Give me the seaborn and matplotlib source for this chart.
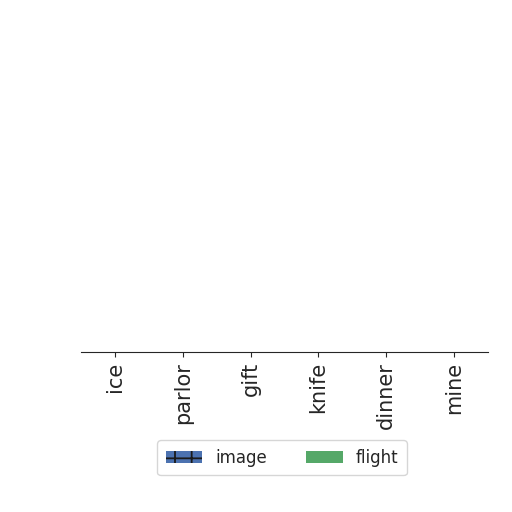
import matplotlib
matplotlib.use("Agg")
import matplotlib.pyplot as plt
from matplotlib.patches import Patch
import pandas as pd
import seaborn as sns

# ----------------------------
# Data (nothing is visible above the axis line, so bar heights read as 0)
# ----------------------------
categories = ["ice", "parlor", "gift", "knife", "dinner", "mine"]
series_names = ["image", "flight"]
image_values = [0, 0, 0, 0, 0, 0]
flight_values = [0, 0, 0, 0, 0, 0]
colors = ["#4C72B0", "#55A868"]
hatches = ["+", ""]

df = pd.DataFrame({
    "category": categories * 2,
    "series": [series_names[0]] * len(categories) + [series_names[1]] * len(categories),
    "value": image_values + flight_values,
})

sns.set_style("ticks")
plt.rcParams["font.family"] = ["DejaVu Sans"]
plt.rcParams["hatch.linewidth"] = 1.3

fig = plt.figure(figsize=(5.12, 5.12), dpi=100)
ax = fig.add_axes([81 / 512, 160 / 512, 407 / 512, 0.62])

sns.barplot(data=df, x="category", y="value", hue="series",
            palette=colors, order=categories, hue_order=series_names,
            errorbar=None, legend=False, ax=ax)

for container, h in zip(ax.containers, hatches):
    for bar in container:
        bar.set_hatch(h)

ax.set_xlim(-0.5, len(categories) - 0.5)
ax.set_xlabel("")
ax.set_ylabel("")
ax.set_yticks([])
ax.tick_params(axis="x", labelsize=15, rotation=90, colors=".15")
sns.despine(ax=ax, left=True)

handles = [Patch(facecolor=c, hatch=h, edgecolor=".1", linewidth=0, label=n)
           for c, h, n in zip(colors, hatches, series_names)]
fig.legend(handles=handles, loc="center", bbox_to_anchor=(0.551, 0.106),
           ncol=2, fontsize=12, handlelength=2.2, columnspacing=2.3,
           borderpad=0.5, frameon=True)

fig.savefig("out.png", dpi=100)
